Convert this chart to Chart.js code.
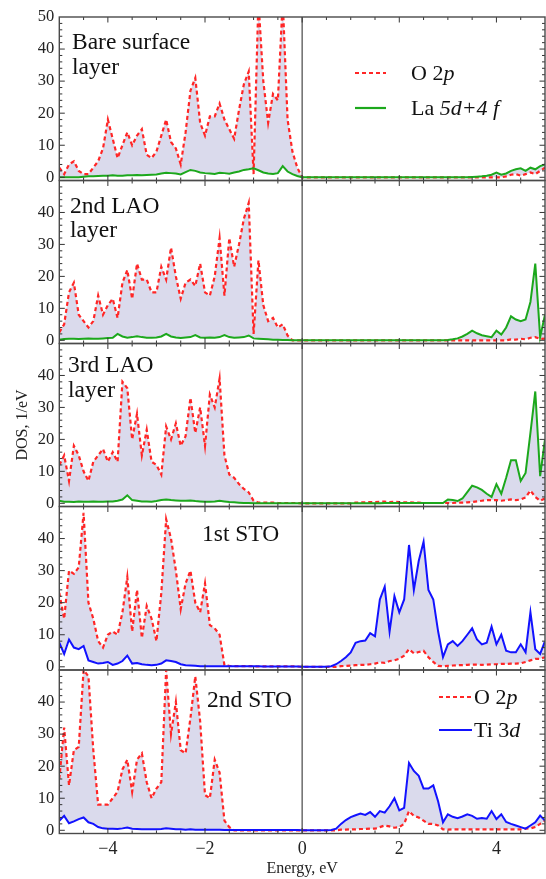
<!DOCTYPE html>
<html><head><meta charset="utf-8">
<script src="https://cdn.jsdelivr.net/npm/chart.js@4.4.1/dist/chart.umd.min.js"></script>
<style>
html,body{margin:0;padding:0;background:#fff;overflow:hidden}
#wrap{position:relative;width:546px;height:879px}
canvas{position:absolute;left:0;top:0}
</style></head>
<body><div id="wrap">
<canvas id="c0" width="546" height="879"></canvas>
<canvas id="c1" width="546" height="879"></canvas>
<canvas id="c2" width="546" height="879"></canvas>
<canvas id="c3" width="546" height="879"></canvas>
<canvas id="c4" width="546" height="879"></canvas>
</div>
<script>
// ---------------- DATA ----------------
const energy = [
 -5.0,-4.9,-4.8,-4.7,-4.6,-4.5,-4.4,-4.3,-4.2,-4.1,
 -4.0,-3.9,-3.8,-3.7,-3.6,-3.5,-3.4,-3.3,-3.2,-3.1,
 -3.0,-2.9,-2.8,-2.7,-2.6,-2.5,-2.4,-2.3,-2.2,-2.1,
 -2.0,-1.9,-1.8,-1.7,-1.6,-1.5,-1.4,-1.3,-1.2,-1.1,
 -1.0,-0.9,-0.8,-0.7,-0.6,-0.5,-0.4,-0.3,-0.2,-0.1,
 0.0,0.1,0.2,0.3,0.4,0.5,0.6,0.7,0.8,0.9,
 1.0,1.1,1.2,1.3,1.4,1.5,1.6,1.7,1.8,1.9,
 2.0,2.1,2.2,2.3,2.4,2.5,2.6,2.7,2.8,2.9,
 3.0,3.1,3.2,3.3,3.4,3.5,3.6,3.7,3.8,3.9,
 4.0,4.1,4.2,4.3,4.4,4.5,4.6,4.7,4.8,4.9,
 5.0];

// Bare surface layer
const bareO2p = [
 3,1,4,5,2,1,1,3,5,9,
 18,12,6,10,14,10,13,15,7,6,
 8,13,18,11,9,4,14,27,31,17,
 13,19,19,23,18,15,12,21,29,33,
 1,55,30,17,26,24,55,18,8,3,
 0,0,0,0,0,0,0,0,0,0,
 0,0,0,0,0,0,0,0,0,0,
 0,0,0,0,0,0,0,0,0,0,
 0,0,0,0,0,0,0,0,0,0,
 0,0,0.3,0.8,1.0,0.5,1.0,1.5,1.0,2.0,
 3.0];
const bareLa = [
 0,0,0,0,0,0.2,0.3,0.3,0.4,0.5,
 0.5,0.6,0.5,0.5,0.6,0.6,0.7,0.6,0.7,0.8,
 0.9,1.2,1.4,1.3,1.2,0.9,1.6,2.3,2.0,1.5,
 1.3,1.2,1.0,1.4,1.3,1.1,1.5,1.8,2.3,2.5,
 2.8,2.2,1.5,1.2,1.0,1.3,3.5,1.8,1.0,0.4,
 0,0,0,0,0,0,0,0,0,0,
 0,0,0,0,0,0,0,0,0,0,
 0,0,0,0,0,0,0,0,0,0,
 0,0,0,0,0,0.1,0.2,0.3,0.5,0.8,
 1.5,0.8,1.2,2.0,2.5,2.8,2.0,3.0,2.5,3.5,
 4.0];

// 2nd LAO layer
const lao2O2p = [
 2.5,5,15,18,8,6,4,6,14,8,
 11,13,7,18,22,13,24,19,19,15,
 15,23,19,29,20,13,18,19,17,24,
 15,14,20,32,14,32,23,30,38,43,
 2,25,11,6,7,4,5,1.5,0,0,
 0,0,0,0,0,0,0,0,0,0,
 0,0,0,0,0,0,0,0,0,0,
 0,0,0,0,0,0,0,0,0,0,
 0,0,0,0,0,0,0,0,0,0,
 0,0,0,0.3,0.2,0.5,0.3,0.8,1.0,0.4,
 0.5];
const lao2La = [
 0.2,0.4,0.5,0.5,0.4,0.5,0.6,0.5,0.5,0.6,
 0.7,0.8,2.0,1.2,0.8,1.0,1.3,1.0,0.8,0.8,
 0.9,1.2,2.0,1.2,0.9,0.7,0.9,1.0,1.6,0.9,
 0.8,0.9,0.8,1.0,1.6,1.0,0.8,0.9,1.0,1.5,
 0.6,0.5,0.4,0.3,0.2,0.2,0.1,0.1,0,0,
 0,0,0,0,0,0,0,0,0,0,
 0,0,0,0,0,0,0,0,0,0,
 0,0,0,0,0,0,0,0,0,0,
 0.1,0.3,0.6,1.2,2.0,3.0,2.2,1.6,1.3,1.0,
 3.0,1.8,4.0,7.5,6.5,6.0,6.5,12,24,1.0,
 8];

// 3rd LAO layer
const lao3O2p = [
 12,15,7,18,15,10,7,13,15,17,
 13,16,13,38,36,20,28,15,23,13,
 12,9,24,20,25,18,21,33,22,30,
 18,34,30,39,15,9,8,6,4.5,3.4,
 0.8,0.2,0.2,0.2,0.2,0.1,0.1,0.1,0.1,0.1,
 0,0,0,0,0,0,0,0,0,0,
 0,0.2,0.3,0.3,0.4,0.4,0.5,0.5,0.4,0.5,
 0.4,0.3,0.3,0.2,0.2,0.1,0.1,0.1,0.1,0.1,
 0.1,0.1,0.2,0.2,0.3,0.4,0.6,0.8,1.0,1.0,
 1.0,0.8,1.0,1.2,1.0,1.2,1.8,4.0,2.0,0.8,
 1.5];
const lao3La = [
 0.8,0.5,0.5,0.4,0.6,0.5,0.5,0.6,0.5,0.5,
 0.6,0.6,0.8,1.2,2.5,1.0,0.8,0.6,0.6,0.5,
 0.7,1.0,1.2,1.0,0.9,0.8,0.8,0.9,0.7,0.6,
 0.5,0.5,0.6,0.8,0.6,0.4,0.3,0.2,0.1,0.1,
 0,0,0,0,0,0,0,0,0,0,
 0,0,0,0,0,0,0,0,0,0,
 0,0,0,0,0,0,0,0.1,0.1,0.1,
 0.1,0.1,0.1,0.1,0.1,0.1,0.1,0.1,0.1,0.1,
 1.2,1.0,0.7,1.5,3.5,5.5,5.0,4.2,3.0,2.0,
 6.0,3.0,8.0,13.5,13.5,7.0,9.5,22,35,8.5,
 20];

// 1st STO
const sto1O2p = [
 23,15,30,29,31,48,20,15,8,6,
 10,11,10,17,28,11,24,9,19,15,
 8,23,46,40,30,18,26,30,20,17,
 26,13,12,10,0.5,0.3,0.2,0.2,0.2,0.2,
 0.2,0.1,0.1,0.1,0.1,0.1,0.1,0.1,0.1,0.1,
 0,0,0,0,0,0,0,0,0.2,0.3,
 0.4,0.5,0.6,0.6,0.8,1.0,1.4,1.2,1.8,2.0,
 2.5,3.5,5.5,4.2,4.6,5.0,3.0,1.5,0.3,0.2,
 0.3,0.4,0.5,0.5,0.6,0.7,0.7,0.6,0.7,0.8,
 0.8,0.9,0.9,1.0,1.0,1.1,1.5,2.0,2.5,2.5,
 3.0];
const sto1Ti = [
 7.5,4.0,8.5,6.0,5.5,6.5,2.0,1.5,1.0,1.2,
 1.5,0.6,1.0,1.8,3.5,1.0,1.2,0.8,0.6,0.5,
 0.6,1.0,2.0,1.8,1.5,0.8,0.5,0.4,0.3,0.2,
 0.2,0.2,0.2,0.2,0.2,0.2,0.2,0.2,0.2,0.2,
 0.2,0.2,0.1,0.1,0.1,0.1,0.1,0.1,0.1,0.1,
 0,0,0,0,0,0,0.2,0.8,1.8,3.0,
 4.5,7.5,8.0,8.2,10.5,9.5,21,25,11,22,
 17,21,38,24,33,39,24,21,11,3,
 7,8,6.5,8,10,12,8.5,7,7.5,12.5,
 7,10,5,4.5,4.5,7,4.5,17,5.5,4,
 8];

// 2nd STO
const sto2O2p = [
 16,32,14,25,26,50,48,25,8,8,
 8,10,12,19,22,12,22,24,15,10,
 13,15,50,30,40,25,24,35,48,34,
 11,10,22,18,3,1,0,0,0,0,
 0,0,0,0,0,0,0,0,0,0,
 0,0,0,0,0,0,0,0,0.2,0.2,
 0.3,0.3,0.4,0.4,0.5,0.5,1.0,1.5,1.2,0.8,
 1.0,2.0,6.0,4.5,4.0,3.0,2.0,2.0,1.5,0.3,
 0.2,0.3,0.3,0.3,0.3,0.3,0.3,0.3,0.3,0.3,
 0.3,0.3,0.3,0.3,0.3,0.3,0.5,0.6,1.0,2.0,
 3];
const sto2Ti = [
 3,4.5,2.2,2.8,3.5,4.0,2.5,2.0,1.0,0.6,
 0.5,0.5,0.4,0.6,0.9,0.5,0.4,0.3,0.3,0.3,
 0.3,0.4,0.6,0.5,0.3,0.3,0.2,0.3,0.2,0.2,
 0.2,0.2,0.2,0.2,0.1,0.1,0.1,0.1,0.1,0.1,
 0.1,0.1,0.1,0.1,0.1,0.1,0.1,0.1,0.1,0.1,
 0,0,0,0,0,0,0.1,0.5,2.0,3.2,
 4.1,4.7,5.2,4.8,5.7,4.2,6.0,5.5,7.5,10,
 6.2,7,21,18.5,17,13,13,14,9,2.5,
 5,4.2,3.8,4.3,5.0,4.5,3.6,3.8,3.6,6.0,
 3.5,5.0,2.6,2.0,1.5,1.0,0.5,1.5,2.5,4.6,
 3];

const panelTitles = [["Bare surface","layer"],["2nd LAO","layer"],["3rd LAO","layer"],["1st STO"],["2nd STO"]];
const seriesO2p = [["O 2",false],["p",true]];
const seriesLa  = [["La ",false],["5d+4 f",true]];
const seriesTi  = [["Ti 3",false],["d",true]];
const xMajorTicks = [-4,-2,0,2,4];
const xTickLabels = ["\u22124","\u22122","0","2","4"];
const xMinorTicks = [-4.5,-3.5,-3,-2.5,-1.5,-1,-0.5,0.5,1,1.5,2.5,3,3.5,4.5];
const yLabelTicksTop = [0,10,20,30,40,50];
const yLabelTicks = [0,10,20,30,40];
const yMinorTicks = [2,4,6,8,12,14,16,18,22,24,26,28,32,34,36,38,42,44,46,48];
const xTitle = "Energy, eV";
const yTitle = "DOS, 1/eV";

// ---------------- STYLE / LAYOUT ----------------
const RED = 'rgb(255,38,38)', GREEN = 'rgb(28,168,28)', BLUE = 'rgb(18,18,255)';
const FILL = 'rgb(218,218,236)';
const FRAME = '#4a4a4a';
const SERIF = '"Liberation Serif", "Times New Roman", serif';
const W = 546, H = 879;
const edges = [17, 180.5, 343.5, 506.5, 670, 833.5];

const panelDefs = [
  {o: bareO2p, m: bareLa, mColor: GREEN, yTicks: yLabelTicksTop,
   title: {x: 72, y: [49, 74]},
   legend: {x0: 355, x1: 386, tx: 411, rows: [[73, seriesO2p, 'o'], [108, seriesLa, 'm']]}},
  {o: lao2O2p, m: lao2La, mColor: GREEN, yTicks: yLabelTicks, title: {x: 70, y: [212.5, 237]}},
  {o: lao3O2p, m: lao3La, mColor: GREEN, yTicks: yLabelTicks, title: {x: 68, y: [372, 397]}, yTitle: true},
  {o: sto1O2p, m: sto1Ti, mColor: BLUE, yTicks: yLabelTicks, title: {x: 202, y: [540.5]}},
  {o: sto2O2p, m: sto2Ti, mColor: BLUE, yTicks: yLabelTicks, title: {x: 207, y: [706.5]}, xAxis: true,
   legend: {x0: 439, x1: 472, tx: 474, rows: [[697, seriesO2p, 'o'], [730, seriesTi, 'm']]}},
];

function richText(ctx, segs, x, y, size) {
  let cx = x;
  for (const [t, it] of segs) {
    ctx.font = (it ? 'italic ' : '') + size + 'px ' + SERIF;
    ctx.fillText(t, cx, y);
    cx += ctx.measureText(t).width;
  }
}

const decor = {
  id: 'decor',
  afterDatasetsDraw(chart, args, opts) {
    const {ctx, chartArea: a, scales: {x, y}} = chart;
    const def = opts.def, idx = opts.idx;
    ctx.save();
    // zero-energy axis line
    ctx.strokeStyle = '#555';
    ctx.lineWidth = 1.3;
    const x0 = x.getPixelForValue(0);
    ctx.beginPath(); ctx.moveTo(x0, a.top); ctx.lineTo(x0, a.bottom); ctx.stroke();
    // ticks
    ctx.strokeStyle = '#333';
    ctx.lineWidth = 1;
    const tick = (px, py, dx, dy) => { ctx.beginPath(); ctx.moveTo(px, py); ctx.lineTo(px + dx, py + dy); ctx.stroke(); };
    for (const v of xMajorTicks) { const p = x.getPixelForValue(v); tick(p, a.bottom, 0, -5.5); tick(p, a.top, 0, 5.5); }
    for (const v of xMinorTicks) { const p = x.getPixelForValue(v); tick(p, a.bottom, 0, -3); tick(p, a.top, 0, 3); }
    for (const v of yLabelTicksTop) { const p = y.getPixelForValue(v); if (p < a.top + 0.5) continue; tick(a.left, p, 5.5, 0); tick(a.right, p, -5.5, 0); }
    for (const v of yMinorTicks) { const p = y.getPixelForValue(v); tick(a.left, p, 3, 0); tick(a.right, p, -3, 0); }
    // frame
    ctx.strokeStyle = FRAME;
    ctx.lineWidth = 1.4;
    ctx.strokeRect(a.left, a.top, a.right - a.left, a.bottom - a.top);
    // panel title
    ctx.fillStyle = '#111';
    ctx.textBaseline = 'alphabetic';
    ctx.font = '23.5px ' + SERIF;
    panelTitles[idx].forEach((t, i) => ctx.fillText(t, def.title.x, def.title.y[i]));
    // legend
    if (def.legend) {
      const L = def.legend;
      ctx.textBaseline = 'middle';
      for (const [ly, segs, kind] of L.rows) {
        ctx.beginPath();
        ctx.lineWidth = 2.2;
        if (kind === 'o') { ctx.strokeStyle = RED; ctx.setLineDash([4, 3]); }
        else { ctx.strokeStyle = def.mColor; ctx.setLineDash([]); }
        ctx.moveTo(L.x0, ly); ctx.lineTo(L.x1, ly); ctx.stroke();
        ctx.setLineDash([]);
        ctx.fillStyle = '#111';
        richText(ctx, segs, L.tx, ly + 1, 22);
      }
    }
    ctx.restore();
  }
};

panelDefs.forEach((def, idx) => {
  const top = edges[idx], bottom = edges[idx + 1];
  new Chart(document.getElementById('c' + idx), {
    type: 'line',
    data: {
      datasets: [
        {data: energy.map((e, i) => ({x: e, y: def.o[i]})), borderColor: RED, borderWidth: 2.2,
         borderDash: [4, 3], pointRadius: 0, tension: 0, order: 1,
         fill: {target: 1, above: FILL, below: FILL}},
        {data: energy.map((e, i) => ({x: e, y: def.m[i]})), borderColor: def.mColor, borderWidth: 2,
         pointRadius: 0, tension: 0, order: 0, fill: false}
      ]
    },
    options: {
      responsive: false, animation: false, devicePixelRatio: 1,
      layout: {padding: {top: top, left: 0, right: 1, bottom: def.xAxis ? 0 : H - bottom}},
      plugins: {legend: {display: false}, tooltip: {enabled: false},
                filler: {drawTime: 'beforeDatasetsDraw'},
                decor: {def: def, idx: idx}},
      scales: {
        x: {type: 'linear', min: -5, max: 5, display: !!def.xAxis,
            grid: {display: false, drawTicks: false}, border: {display: false},
            afterBuildTicks: s => { s.ticks = xMajorTicks.map(v => ({value: v})); },
            afterFit: s => { if (def.xAxis) s.height = H - edges[5]; else s.height = 0; },
            ticks: {padding: 5, color: '#222', font: {family: SERIF, size: 18},
                    callback: (v, i) => xTickLabels[i]},
            title: {display: true, text: xTitle, color: '#222', font: {family: SERIF, size: 16},
                    padding: {top: 0, bottom: 1}}},
        y: {type: 'linear', min: -1, max: 50,
            grid: {display: false, drawTicks: false}, border: {display: false},
            afterBuildTicks: s => { s.ticks = def.yTicks.map(v => ({value: v})); },
            afterFit: s => { s.width = 59.3; },
            ticks: {padding: 5, color: '#222', font: {family: SERIF, size: 16.5}},
            title: {display: !!def.yTitle, text: yTitle, color: '#222', font: {family: SERIF, size: 16},
                    padding: {top: 13.5, bottom: 0}}}
      }
    },
    plugins: [decor]
  });
});
</script>
</body></html>
